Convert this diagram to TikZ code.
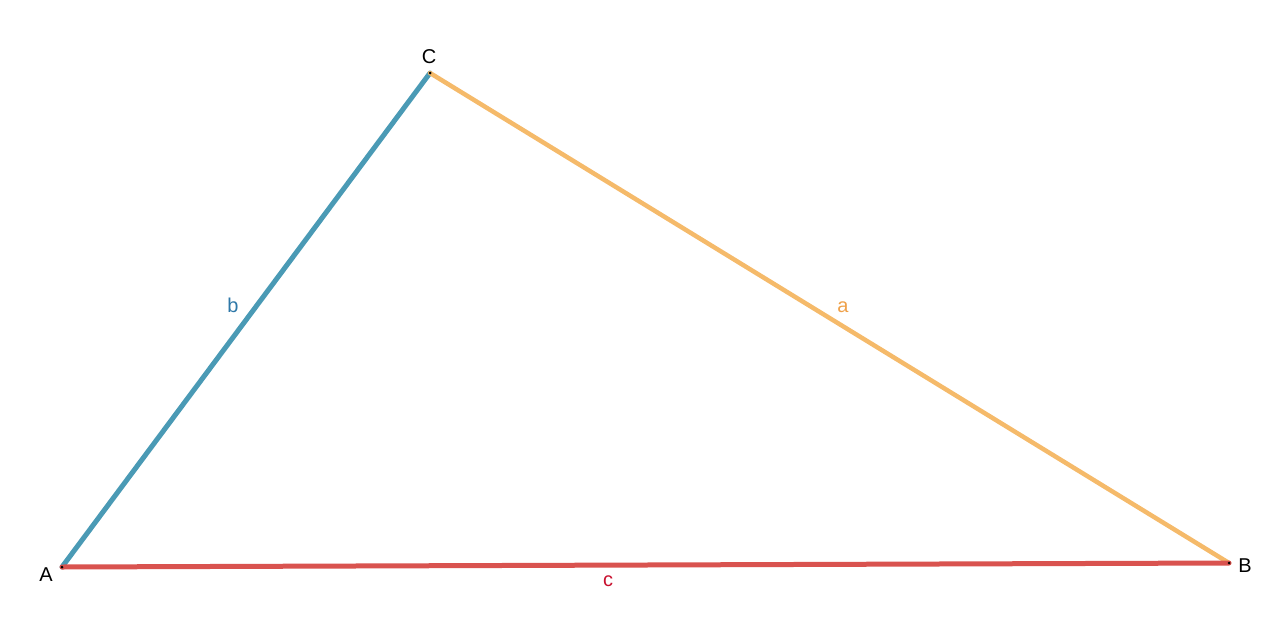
\documentclass[tikz,border=0pt]{standalone}
\usepackage{fontspec}
\setmainfont{Liberation Sans}
\definecolor{sideb}{HTML}{4A9AB5}
\definecolor{sidea}{HTML}{F5BA6A}
\definecolor{sidec}{HTML}{D9534F}
\definecolor{labb}{HTML}{2E78A8}
\definecolor{laba}{HTML}{EFA14A}
\definecolor{labc}{HTML}{C8102E}
\begin{document}
\begin{tikzpicture}[x=1pt,y=-1pt,
  vtx/.style={circle,fill=black,inner sep=0pt,minimum size=3pt},
  side/.style={line width=5pt,line cap=round},
  lbl/.style={font=\fontsize{20}{24}\selectfont,inner sep=0pt}]
\useasboundingbox (0,0) rectangle (1280,640);
\coordinate (A) at (62,567);
\coordinate (B) at (1229,563);
\coordinate (C) at (430,73);
\draw[side,sideb] (A) -- (C);
\draw[side,sidea,line width=4.5pt] (C) -- (B);
\draw[side,sidec] (A) -- (B);
\node[vtx] (vA) at (A) {};
\node[vtx] (vB) at (B) {};
\node[vtx] (vC) at (C) {};
\node[lbl] (tA) at (46,575) {A};
\node[lbl] (tB) at (1245,566) {B};
\node[lbl] (tC) at (429,57) {C};
\node[lbl,text=labb] (tb) at (233,305) {b};
\node[lbl,text=laba] (ta) at (843,307) {a};
\node[lbl,text=labc] (tc) at (608,581) {c};
\end{tikzpicture}
\end{document}
